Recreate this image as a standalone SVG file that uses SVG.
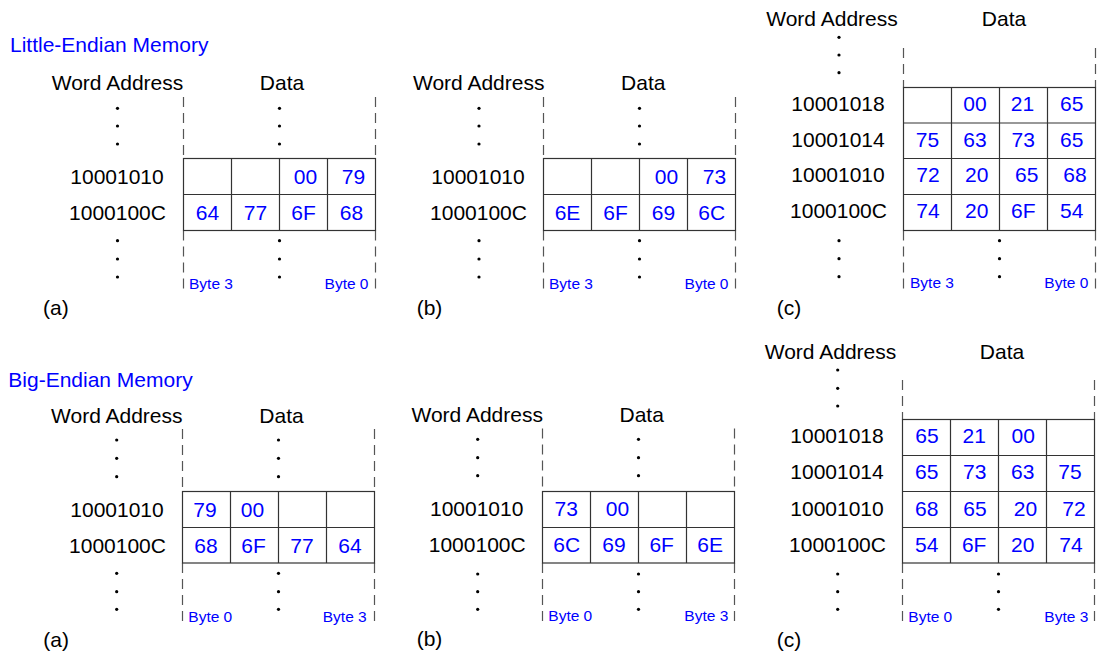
<svg xmlns="http://www.w3.org/2000/svg" width="1099" height="656" viewBox="0 0 1099 656">
<style>
text{font-family:"Liberation Sans",Arial,sans-serif;font-size:21px;fill:#000}
.t{fill:#0000ff}
.c{text-anchor:middle}
.e{text-anchor:end}
.b{font-size:15.5px;fill:#0000ff}
.d{stroke:#555;stroke-width:1.2;stroke-dasharray:10,6;fill:none}
.g{stroke:#333;stroke-width:1.2;fill:#fff}
.v{fill:#000}
</style>
<rect width="1099" height="656" fill="#fff"/>

<text id="title-le" class="t" x="10" y="52">Little-Endian Memory</text>
<text id="title-be" class="t" x="8.3" y="386.7">Big-Endian Memory</text>

<!-- ===== Top (a) ===== -->
<g id="le-a">
<text class="c" x="117.5" y="90">Word Address</text>
<text class="c" x="282" y="90">Data</text>
<g class="v"><circle cx="117.5" cy="108.3" r="1.6"/><circle cx="117.5" cy="126" r="1.6"/><circle cx="117.5" cy="144" r="1.6"/>
<circle cx="117.5" cy="240.7" r="1.6"/><circle cx="117.5" cy="259" r="1.6"/><circle cx="117.5" cy="277" r="1.6"/>
<circle cx="279.5" cy="108.3" r="1.6"/><circle cx="279.5" cy="126" r="1.6"/><circle cx="279.5" cy="144" r="1.6"/>
<circle cx="279.5" cy="240.7" r="1.6"/><circle cx="279.5" cy="259" r="1.6"/><circle cx="279.5" cy="277" r="1.6"/></g>
<path class="d" d="M183.5 97V158.5M375.5 97V158.5M183.5 230.5V291M375.5 230.5V291"/>
<rect class="g" x="183.5" y="158.5" width="192" height="72"/>
<path class="g" d="M183.5 194.5H375.5M231.5 158.5V230.5M279.5 158.5V230.5M327.5 158.5V230.5"/>
<text class="c" x="117" y="183.5">10001010</text>
<text class="c" x="117.5" y="219.5">1000100C</text>
<text class="t c" x="305.5" y="183.5">00</text><text class="t c" x="353.5" y="183.5">79</text>
<text class="t c" x="207.5" y="219.5">64</text><text class="t c" x="255.5" y="219.5">77</text><text class="t c" x="303.5" y="219.5">6F</text><text class="t c" x="351.5" y="219.5">68</text>
<text class="b" x="189" y="289">Byte 3</text><text class="b e" x="368.5" y="289">Byte 0</text>
<text x="43" y="315">(a)</text>
</g>

<!-- ===== Top (b) ===== -->
<g id="le-b">
<text class="c" x="478.7" y="90">Word Address</text>
<text class="c" x="643.3" y="90">Data</text>
<g class="v"><circle cx="479" cy="108.3" r="1.6"/><circle cx="479" cy="126" r="1.6"/><circle cx="479" cy="144" r="1.6"/>
<circle cx="479" cy="240.7" r="1.6"/><circle cx="479" cy="259" r="1.6"/><circle cx="479" cy="277" r="1.6"/>
<circle cx="639.5" cy="108.3" r="1.6"/><circle cx="639.5" cy="126" r="1.6"/><circle cx="639.5" cy="144" r="1.6"/>
<circle cx="639.5" cy="240.7" r="1.6"/><circle cx="639.5" cy="259" r="1.6"/><circle cx="639.5" cy="277" r="1.6"/></g>
<path class="d" d="M543.5 97V158.5M735.5 97V158.5M543.5 230.5V291M735.5 230.5V291"/>
<rect class="g" x="543.5" y="158.5" width="192" height="72"/>
<path class="g" d="M543.5 194.5H735.5M591.5 158.5V230.5M639.5 158.5V230.5M687.5 158.5V230.5"/>
<text class="c" x="478" y="183.5">10001010</text>
<text class="c" x="478.5" y="219.5">1000100C</text>
<text class="t c" x="666.5" y="183.5">00</text><text class="t c" x="714.5" y="183.5">73</text>
<text class="t c" x="567.5" y="219.5">6E</text><text class="t c" x="615.5" y="219.5">6F</text><text class="t c" x="663.5" y="219.5">69</text><text class="t c" x="711.7" y="219.5">6C</text>
<text class="b" x="549" y="288.5">Byte 3</text><text class="b e" x="728.5" y="288.5">Byte 0</text>
<text x="416.7" y="315">(b)</text>
</g>

<!-- ===== Top (c) ===== -->
<g id="le-c">
<text class="c" x="832" y="26">Word Address</text>
<text class="c" x="1004" y="26">Data</text>
<g class="v"><circle cx="839" cy="37.3" r="1.6"/><circle cx="839" cy="55" r="1.6"/><circle cx="839" cy="72.7" r="1.6"/>
<circle cx="839" cy="240.7" r="1.6"/><circle cx="839" cy="258.7" r="1.6"/><circle cx="839" cy="276.7" r="1.6"/>
<circle cx="999.5" cy="240.7" r="1.6"/><circle cx="999.5" cy="258.7" r="1.6"/><circle cx="999.5" cy="276.7" r="1.6"/></g>
<path class="d" d="M903.5 48V87.5M1095.5 48V87.5M903.5 230.5V291M1095.5 230.5V291"/>
<rect class="g" x="903.5" y="87.5" width="192" height="143"/>
<path class="g" d="M903.5 123H1095.5M903.5 158.5H1095.5M903.5 194.5H1095.5M951.5 87.5V230.5M999.5 87.5V230.5M1047.5 87.5V230.5"/>
<text class="c" x="838" y="111">10001018</text>
<text class="c" x="838" y="146.7">10001014</text>
<text class="c" x="838" y="182.3">10001010</text>
<text class="c" x="838.5" y="218.3">1000100C</text>
<text class="t c" x="975" y="111">00</text><text class="t c" x="1022.5" y="111">21</text><text class="t c" x="1071.7" y="111">65</text>
<text class="t c" x="927.5" y="146.7">75</text><text class="t c" x="975" y="146.7">63</text><text class="t c" x="1023.3" y="146.7">73</text><text class="t c" x="1071.7" y="146.7">65</text>
<text class="t c" x="928" y="182.3">72</text><text class="t c" x="976.7" y="182.3">20</text><text class="t c" x="1026.7" y="182.3">65</text><text class="t c" x="1075" y="182.3">68</text>
<text class="t c" x="928" y="218.3">74</text><text class="t c" x="976.7" y="218.3">20</text><text class="t c" x="1023.3" y="218.3">6F</text><text class="t c" x="1071.7" y="218.3">54</text>
<text class="b" x="910" y="288.3">Byte 3</text><text class="b e" x="1088.3" y="288.3">Byte 0</text>
<text x="776.7" y="315">(c)</text>
</g>

<!-- ===== Bottom (a) ===== -->
<g id="be-a">
<text class="c" x="116.8" y="422.7">Word Address</text>
<text class="c" x="281.5" y="422.7">Data</text>
<g class="v"><circle cx="116.7" cy="440" r="1.6"/><circle cx="116.7" cy="458.3" r="1.6"/><circle cx="116.7" cy="476.7" r="1.6"/>
<circle cx="116.7" cy="573.3" r="1.6"/><circle cx="116.7" cy="591.7" r="1.6"/><circle cx="116.7" cy="609.3" r="1.6"/>
<circle cx="278.5" cy="440" r="1.6"/><circle cx="278.5" cy="458.3" r="1.6"/><circle cx="278.5" cy="476.7" r="1.6"/>
<circle cx="278.5" cy="573.3" r="1.6"/><circle cx="278.5" cy="591.7" r="1.6"/><circle cx="278.5" cy="609.3" r="1.6"/></g>
<path class="d" d="M182.5 429V491.5M374.5 429V491.5M182.5 563V623M374.5 563V623"/>
<rect class="g" x="182.5" y="491.5" width="192" height="71.5"/>
<path class="g" d="M182.5 527.5H374.5M230.5 491.5V563M278.5 491.5V563M326.5 491.5V563"/>
<text class="c" x="117" y="516.7">10001010</text>
<text class="c" x="117.5" y="552.7">1000100C</text>
<text class="t c" x="205" y="516.7">79</text><text class="t c" x="252.5" y="516.7">00</text>
<text class="t c" x="206" y="552.7">68</text><text class="t c" x="253.5" y="552.7">6F</text><text class="t c" x="302" y="552.7">77</text><text class="t c" x="350" y="552.7">64</text>
<text class="b" x="188.3" y="621.7">Byte 0</text><text class="b e" x="366.7" y="621.7">Byte 3</text>
<text x="43.3" y="647.3">(a)</text>
</g>

<!-- ===== Bottom (b) ===== -->
<g id="be-b">
<text class="c" x="477.2" y="421.7">Word Address</text>
<text class="c" x="641.7" y="421.7">Data</text>
<g class="v"><circle cx="477.7" cy="439.3" r="1.6"/><circle cx="477.7" cy="457.7" r="1.6"/><circle cx="477.7" cy="475.7" r="1.6"/>
<circle cx="477.7" cy="574" r="1.6"/><circle cx="477.7" cy="591.7" r="1.6"/><circle cx="477.7" cy="609.3" r="1.6"/>
<circle cx="638.5" cy="439.3" r="1.6"/><circle cx="638.5" cy="457.7" r="1.6"/><circle cx="638.5" cy="475.7" r="1.6"/>
<circle cx="638.5" cy="574" r="1.6"/><circle cx="638.5" cy="591.7" r="1.6"/><circle cx="638.5" cy="609.3" r="1.6"/></g>
<path class="d" d="M542.5 428.5V491.5M734.5 428.5V491.5M542.5 563V623M734.5 563V623"/>
<rect class="g" x="542.5" y="491.5" width="192" height="71.5"/>
<path class="g" d="M542.5 527.5H734.5M590.5 491.5V563M638.5 491.5V563M686.5 491.5V563"/>
<text class="c" x="476.7" y="515.7">10001010</text>
<text class="c" x="477.2" y="551.7">1000100C</text>
<text class="t c" x="566.2" y="515.7">73</text><text class="t c" x="617.5" y="515.7">00</text>
<text class="t c" x="566.7" y="551.7">6C</text><text class="t c" x="614" y="551.7">69</text><text class="t c" x="661.7" y="551.7">6F</text><text class="t c" x="710.2" y="551.7">6E</text>
<text class="b" x="548.3" y="621">Byte 0</text><text class="b e" x="728.3" y="621">Byte 3</text>
<text x="416.7" y="645.7">(b)</text>
</g>

<!-- ===== Bottom (c) ===== -->
<g id="be-c">
<text class="c" x="830.5" y="359.3">Word Address</text>
<text class="c" x="1002" y="359.3">Data</text>
<g class="v"><circle cx="837.7" cy="370" r="1.6"/><circle cx="837.7" cy="388.3" r="1.6"/><circle cx="837.7" cy="406" r="1.6"/>
<circle cx="837.7" cy="574" r="1.6"/><circle cx="837.7" cy="591.7" r="1.6"/><circle cx="837.7" cy="609.3" r="1.6"/>
<circle cx="998.5" cy="574" r="1.6"/><circle cx="998.5" cy="591.7" r="1.6"/><circle cx="998.5" cy="609.3" r="1.6"/></g>
<path class="d" d="M902.5 380V419.5M1094.5 380V419.5M902.5 563V623M1094.5 563V623"/>
<rect class="g" x="902.5" y="419.5" width="192" height="143.5"/>
<path class="g" d="M902.5 455.5H1094.5M902.5 491.5H1094.5M902.5 527.5H1094.5M950.5 419.5V563M998.5 419.5V563M1046.5 419.5V563"/>
<text class="c" x="837" y="443.3">10001018</text>
<text class="c" x="837" y="479.3">10001014</text>
<text class="c" x="837" y="515.7">10001010</text>
<text class="c" x="837.5" y="551.7">1000100C</text>
<text class="t c" x="927" y="443.3">65</text><text class="t c" x="974.2" y="443.3">21</text><text class="t c" x="1023.3" y="443.3">00</text>
<text class="t c" x="926.7" y="479.3">65</text><text class="t c" x="974.7" y="479.3">73</text><text class="t c" x="1022.7" y="479.3">63</text><text class="t c" x="1070" y="479.3">75</text>
<text class="t c" x="926.7" y="515.7">68</text><text class="t c" x="975" y="515.7">65</text><text class="t c" x="1025.5" y="515.7">20</text><text class="t c" x="1074" y="515.7">72</text>
<text class="t c" x="926.7" y="551.7">54</text><text class="t c" x="974.2" y="551.7">6F</text><text class="t c" x="1022.7" y="551.7">20</text><text class="t c" x="1071" y="551.7">74</text>
<text class="b" x="908.3" y="621.7">Byte 0</text><text class="b e" x="1088.3" y="621.7">Byte 3</text>
<text x="776.7" y="646.7">(c)</text>
</g>
</svg>
